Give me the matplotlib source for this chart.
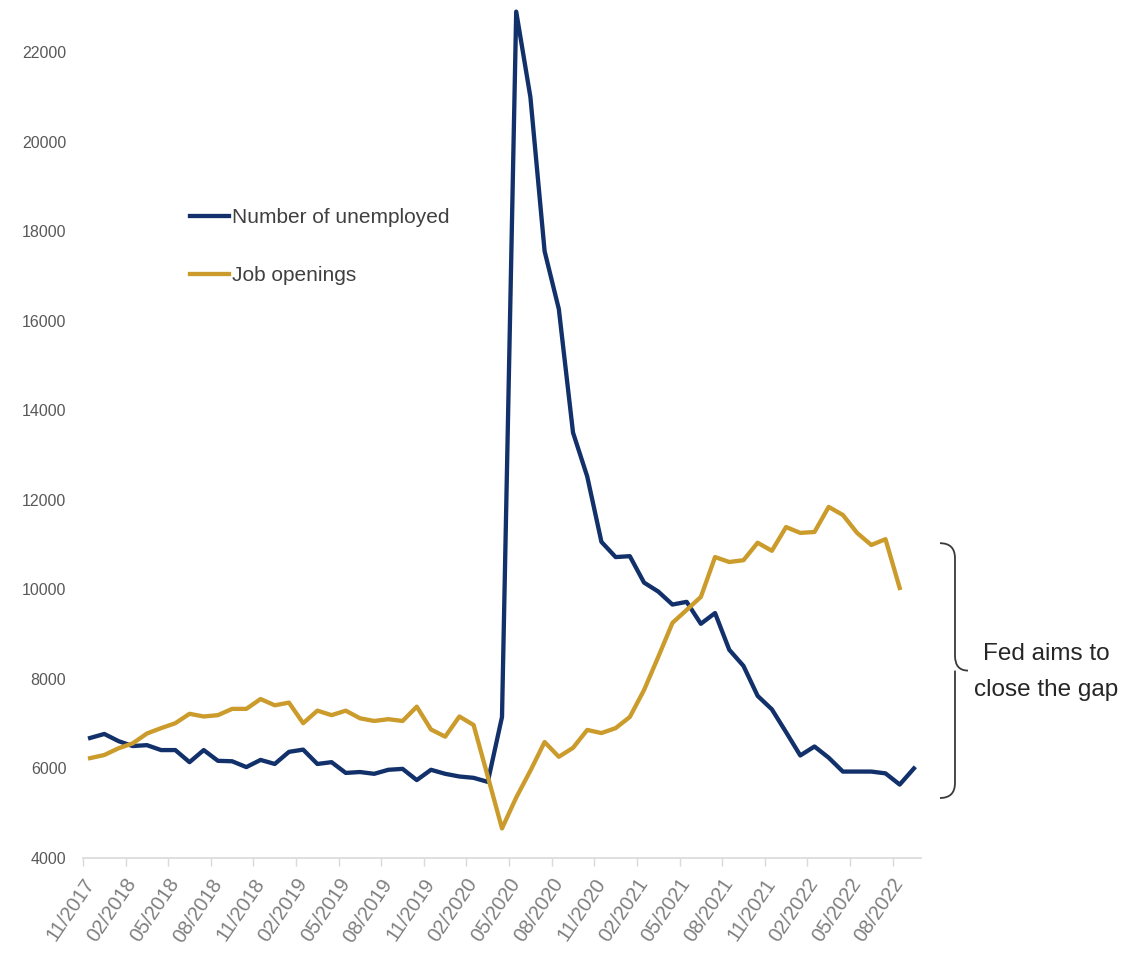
import numpy as np
import pandas as pd
import matplotlib
matplotlib.use("Agg")
import matplotlib.pyplot as plt
from matplotlib import font_manager
from matplotlib.path import Path
from matplotlib.patches import PathPatch

# monthly data, thousands
months = pd.period_range("2017-11", periods=59, freq="M")
tick_labels = ["11/2017", "02/2018", "05/2018", "08/2018", "11/2018", "02/2019",
               "05/2019", "08/2019", "11/2019", "02/2020", "05/2020", "08/2020",
               "11/2020", "02/2021", "05/2021", "08/2021", "11/2021", "02/2022",
               "05/2022", "08/2022"]

unemployed = [6680, 6770, 6610, 6500, 6520, 6410, 6410, 6140, 6410, 6170,
              6160, 6030, 6190, 6100, 6370, 6420, 6100, 6140, 5900, 5920,
              5880, 5970, 5990, 5740, 5970, 5880, 5820, 5790, 5700, 7150,
              22900, 20990, 17550, 16260, 13500, 12520, 11060, 10720, 10740, 10150,
              9950, 9660, 9720, 9230, 9470, 8650, 8290, 7620, 7320, 6810,
              6290, 6490, 6240, 5930, 5930, 5930, 5890, 5640, 6000]

job_openings = [6230, 6300, 6450, 6560, 6780, 6900, 7010, 7220, 7160, 7190,
                7330, 7330, 7550, 7410, 7470, 7010, 7290, 7190, 7290, 7120,
                7060, 7100, 7060, 7380, 6870, 6710, 7160, 6970, 5820, 4660,
                5350, 5950, 6590, 6260, 6460, 6860, 6790, 6900, 7150, 7750,
                8490, 9250, 9540, 9830, 10720, 10610, 10650, 11040, 10860, 11390,
                11260, 11280, 11840, 11660, 11260, 10990, 11120, 10030]

brace_top, brace_bottom = 11030, 5340

navy = "#12306A"
gold = "#CB9B2C"

names = {f.name for f in font_manager.fontManager.ttflist}
font = "Liberation Sans Narrow" if "Liberation Sans Narrow" in names else "Liberation Sans"
plt.rcParams["font.family"] = [font, "DejaVu Sans"]

fig = plt.figure(figsize=(11.27, 9.63), dpi=100)
ax = fig.add_axes([83 / 1127, 105 / 963, 838 / 1127, 858 / 963])

x_u = np.arange(len(unemployed))
x_j = np.arange(len(job_openings))
ax.plot(x_u, unemployed, color=navy, lw=3.1, label="Number of unemployed")
ax.plot(x_j, job_openings, color=gold, lw=3.1, label="Job openings")

ax.set_xlim(-0.5, len(months) - 0.5)
ax.set_ylim(4000, 23160)
ax.set_yticks(np.arange(4000, 22001, 2000))

# tick marks between categories, labels on the category centres
ax.set_xticks(np.arange(0, len(months), 3) - 0.5)
ax.set_xticklabels([])
ax.set_xticks(np.arange(0, len(months), 3), minor=True)
ax.set_xticklabels(tick_labels, minor=True, rotation=56, ha="right", va="center",
                   rotation_mode="anchor", fontsize=14.5, color="#7F7F7F")
ax.tick_params(axis="x", which="major", length=6, color="#D9D9D9", width=1)
ax.tick_params(axis="x", which="minor", length=0, pad=16)
ax.tick_params(axis="y", length=0, pad=12, labelsize=11.5, labelcolor="#595959")

for s in ["top", "right", "left"]:
    ax.spines[s].set_visible(False)
ax.spines["bottom"].set_color("#D9D9D9")
ax.spines["bottom"].set_linewidth(1.2)

leg = ax.legend(loc="upper left", bbox_to_anchor=(0.128, 0.757), frameon=False,
                fontsize=15, handlelength=1.85, handletextpad=0.15,
                labelspacing=1.85, borderpad=0, borderaxespad=0)
for t in leg.get_texts():
    t.set_color("#404040")

# curly brace next to the last values
px = 1 / 14.21          # one pixel in x data units
py = 22.33              # one pixel in y data units
bx0 = len(months) - 0.5 + 19 * px
bx1 = bx0 + 15 * px
bx2 = bx0 + 28 * px
mid = (brace_top + brace_bottom) / 2
verts = [(bx0, brace_top), (bx1, brace_top), (bx1, brace_top - 15 * py),
         (bx1, mid + 15 * py), (bx1, mid), (bx2, mid),
         (bx1, mid), (bx1, mid - 15 * py),
         (bx1, brace_bottom + 15 * py), (bx1, brace_bottom), (bx0, brace_bottom)]
codes = [Path.MOVETO, Path.CURVE3, Path.CURVE3, Path.LINETO, Path.CURVE3, Path.CURVE3,
         Path.MOVETO, Path.CURVE3, Path.LINETO, Path.CURVE3, Path.CURVE3]
ax.add_patch(PathPatch(Path(verts, codes), fill=False, ec="#3A3A3A", lw=1.3, clip_on=False))

fig.text(1046 / 1127, 1 - 672 / 963, "Fed aims to\nclose the gap", ha="center", va="center",
         fontsize=17.5, color="#262626", linespacing=1.8)

fig.savefig("out.png", dpi=100)
